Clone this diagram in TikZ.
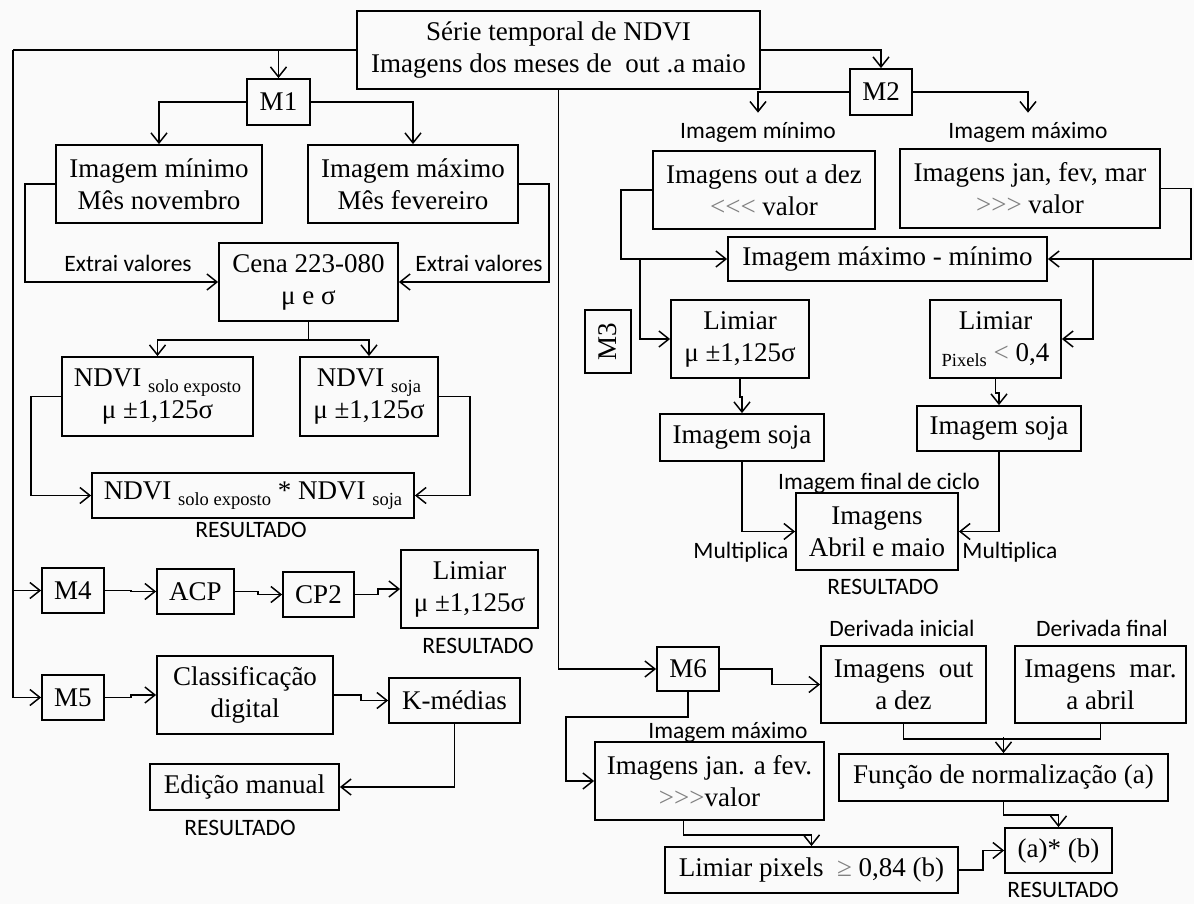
\documentclass[tikz,border=0pt]{standalone}
\usepackage{fontspec}
\setmainfont{Liberation Serif}
\newfontfamily\lblfont{Carlito}
\usetikzlibrary{arrows.meta, positioning, calc}

\newcommand{\sbt}[1]{\raisebox{-0.45ex}{\fontsize{18.5}{18.5}\selectfont #1}}
\newcommand{\gry}[1]{\textcolor{gray}{#1}}

\begin{document}
\begin{tikzpicture}[
  x=1pt, y=-1pt,
  box/.style = {draw, line width=1.8pt, align=center, inner sep=0pt, font=\fontsize{27}{32}\selectfont},
  lbl/.style = {font=\lblfont\fontsize{23.5}{25}\selectfont, inner sep=1pt},
  wire/.style = {line width=1.8pt},
  arr/.style = {wire, -{Straight Barb[length=10pt, width=16pt, line width=1.5pt]}}
]

% Background and size
\fill[black!2] (0,0) rectangle (1194,904);
\useasboundingbox (0,0) rectangle (1194,904);

% Top box
\node[box, minimum width=403pt, minimum height=78pt] (serie) at (558.5,50) {Série temporal de NDVI\\Imagens dos meses de\ \ out .a maio};

% M1
\node[box, minimum width=63pt, minimum height=46pt] (mone) at (278.5,102) {M1};
\node[box, minimum width=206pt, minimum height=78pt] (minA) at (159,184) {Imagem mínimo\\Mês novembro};
\node[box, minimum width=210pt, minimum height=78pt] (maxA) at (413,184) {Imagem máximo\\Mês fevereiro};
\node[box, minimum width=179pt, minimum height=78pt] (cena) at (308.5,282) {Cena 223-080\\μ e σ};
\node[box, minimum width=191pt, minimum height=79pt] (ndsolo) at (157.5,396.5) {NDVI \sbt{solo exposto}\\μ ±1,125σ};
\node[box, minimum width=138pt, minimum height=79pt] (ndsoja) at (369,396.5) {NDVI \sbt{soja}\\μ ±1,125σ};
\node[box, minimum width=322pt, minimum height=45pt] (prod) at (253,495.5) {NDVI \sbt{solo exposto} * NDVI \sbt{soja}};
\node[lbl] (extL) at (128,263) {Extrai valores};
\node[lbl] (extR) at (479,263) {Extrai valores};
\node[lbl] (resA) at (251,530) {RESULTADO};

% M4
\node[box, minimum width=62pt, minimum height=45pt] (mfour) at (73,590.5) {M4};
\node[box, minimum width=77pt, minimum height=45pt] (acp) at (195.5,591.5) {ACP};
\node[box, minimum width=71pt, minimum height=45pt] (cptwo) at (318.5,594.5) {CP2};
\node[box, minimum width=137pt, minimum height=78pt] (limA) at (469.5,589) {Limiar\\μ ±1,125σ};
\node[lbl] (resB) at (478,646) {RESULTADO};

% M5
\node[box, minimum width=62pt, minimum height=45pt] (mfive) at (73,697.5) {M5};
\node[box, minimum width=176pt, minimum height=78pt] (classif) at (245,695) {Classificação\\digital};
\node[box, minimum width=131pt, minimum height=45pt] (kmed) at (454.5,700.5) {K-médias};
\node[box, minimum width=189pt, minimum height=46pt] (edicao) at (244.5,787) {Edição manual};
\node[lbl] (resC) at (240,828) {RESULTADO};

% M2 and M3
\node[box, minimum width=62pt, minimum height=46pt] (mtwo) at (881,92) {M2};
\node[lbl] (immin) at (758,132) {Imagem mínimo};
\node[lbl] (immax) at (1028,132) {Imagem máximo};
\node[box, minimum width=222pt, minimum height=78pt] (outdez) at (764,190) {Imagens out a dez\\\gry{{<}{<}{<}} valor};
\node[box, minimum width=260pt, minimum height=79pt] (janmar) at (1030,188.5) {Imagens jan, fev, mar\\\gry{{>}{>}{>}} valor};
\node[box, minimum width=319pt, minimum height=44pt] (maxmin) at (887.5,259) {Imagem máximo - mínimo};
\node[box, minimum width=46pt, minimum height=63pt] (mthree) at (608,341.5) {\rotatebox{90}{M3}};
\node[box, minimum width=138pt, minimum height=78pt] (limB) at (740,339) {Limiar\\μ ±1,125σ};
\node[box, minimum width=131pt, minimum height=78pt] (limC) at (995.5,339) {Limiar\\\sbt{Pixels} \gry{<} 0,4};
\node[box, minimum width=164pt, minimum height=47pt] (sojaA) at (742,437.5) {Imagem soja};
\node[box, minimum width=164pt, minimum height=45pt] (sojaB) at (999,428.5) {Imagem soja};
\node[box, minimum width=162pt, minimum height=77pt] (abril) at (877,531.5) {Imagens\\Abril e maio};
\node[lbl] (fimciclo) at (879,483) {Imagem final de ciclo};
\node[lbl] (multL) at (741,552) {Multiplica};
\node[lbl] (multR) at (1010,552) {Multiplica};
\node[lbl] (resD) at (883,587) {RESULTADO};

% M6
\node[box, minimum width=62pt, minimum height=44pt] (msix) at (688,669) {M6};
\node[box, minimum width=165pt, minimum height=77pt] (outdezB) at (903.5,684.5) {Imagens\ \ out\\a dez};
\node[box, minimum width=171pt, minimum height=77pt] (marabr) at (1100.5,684.5) {Imagens\ \ mar.\\a abril};
\node[lbl] (derini) at (902,628) {Derivada inicial};
\node[lbl] (derfim) at (1102,628) {Derivada final};
\node[box, minimum width=229pt, minimum height=78pt] (janfev) at (709.5,781) {Imagens\ jan. a fev.\\\gry{{>}{>}{>}}valor};
\node[lbl] (immaxB) at (728,732) {Imagem máximo};
\node[box, minimum width=329pt, minimum height=47pt] (norma) at (1003.5,777.5) {Função de normalização\ (a)};
\node[box, minimum width=293pt, minimum height=46pt] (limD) at (811.5,870) {Limiar pixels\ \ \gry{≥} 0,84 (b)};
\node[box, minimum width=107pt, minimum height=45pt] (axb) at (1058.5,850.5) {(a)* (b)};
\node[lbl] (resE) at (1063,890) {RESULTADO};

% Left rail
\coordinate (railtop) at (12.6,50);
\draw[wire] (serie.west) -- (railtop);
\draw[arr] (railtop) |- (mfour.west);
\draw[arr] (railtop) |- (mfive.west);

% Connectors M1
\draw[arr] (serie.west -| mone.north) -- (mone.north);
\draw[arr] (mone.west) -| (minA.north);
\draw[arr] (mone.east) -| (maxA.north);
\draw[arr] (minA.west) -- ++(-30,0) |- (cena.west);
\draw[arr] (maxA.east) -- ++(30,0) |- (cena.east);
\draw[wire] (cena.south) -- ++(0,18) coordinate (cenafork);
\draw[arr] (cenafork) -| (ndsolo.north);
\draw[arr] (cenafork) -| (ndsoja.north);
\draw[arr] (ndsolo.west) -- ++(-30,0) |- (prod.west);
\draw[arr] (ndsoja.east) -- ++(31,0) |- (prod.east);

% Connectors M4 and M5
\draw[arr] (mfour.east) -- ++(26,0) |- (acp.west);
\draw[arr] (acp.east) -- ++(23,0) |- (cptwo.west);
\draw[arr] (cptwo.east) -- ++(23,0) |- (limA.west);
\draw[arr] (mfive.east) -- ++(26,0) |- (classif.west);
\draw[arr] (classif.east) -- ++(27,0) |- (kmed.west);
\draw[arr] (kmed.south) |- (edicao.east);

% Connectors M2 and M3
\draw[arr] (serie.east) -| (mtwo.north);
\draw[arr] (mtwo.west) -| ([yshift=8pt]immin.north);
\draw[arr] (mtwo.east) -| ([yshift=8pt]immax.north);
\draw[arr] (outdez.west) -- ++(-31,0) |- (maxmin.west);
\draw[arr] (janmar.east) -- ++(30,0) |- (maxmin.east);
\draw[arr] ([xshift=-87pt]maxmin.west) |- (limB.west);
\draw[arr] ([xshift=45pt]maxmin.east) |- (limC.east);
\draw[arr] (limB.south) -- ++(0,18) -| (sojaA.north);
\draw[arr] (limC.south) -- ++(0,14) -| (sojaB.north);
\draw[arr] (sojaA.south) |- (abril.west);
\draw[arr] (sojaB.south) |- (abril.east);

% Connectors M6
\draw[arr] (serie.south) |- (msix.west);
\draw[arr] (msix.east) -- ++(52,0) |- (outdezB.west);
\draw[arr] (msix.south) |- ++(-122,25) |- (janfev.west);
\draw[wire] (outdezB.south) |- ([yshift=-15pt]marabr.south) -- (marabr.south);
\draw[arr] ([yshift=16pt]norma.north) -- (norma.north);
\draw[arr] (norma.south) -- ++(0,13) -| (axb.north);
\draw[arr] ([xshift=-26pt]janfev.south) -- ++(0,14) -| (limD.north);
\draw[arr] (limD.east) -- ++(24,0) |- (axb.west);

\end{tikzpicture}
\end{document}
